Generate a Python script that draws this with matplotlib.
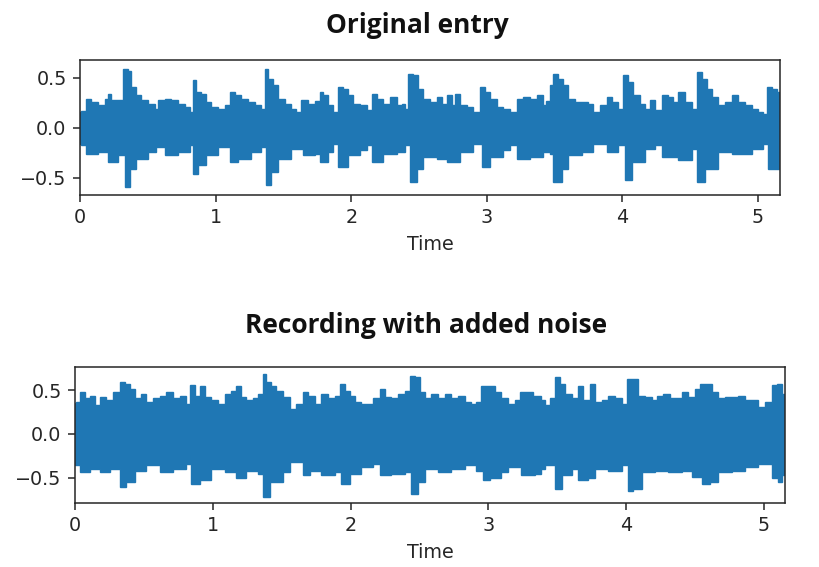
import numpy as np
import matplotlib
matplotlib.use("Agg")
import matplotlib.pyplot as plt

# ---------------- data (amplitude envelopes) ----------------
titles = ["Original entry", "Recording with added noise"]
x_label = "Time"
x_ticks = [0, 1, 2, 3, 4, 5]
y_ticks = [-0.5, 0.0, 0.5]

orig_upper_t = [0.0, 0.010, 0.047, 0.084, 0.133, 0.182, 0.206, 0.231, 0.280, 0.317, 0.354, 0.379,
                0.415, 0.452, 0.501, 0.551, 0.575, 0.624, 0.674, 0.723, 0.772, 0.809, 0.833, 0.858,
                0.895, 0.932, 0.969, 1.018, 1.067, 1.104, 1.141, 1.190, 1.239, 1.288, 1.337, 1.362,
                1.386, 1.423, 1.460, 1.509, 1.558, 1.595, 1.632, 1.681, 1.733, 1.770, 1.794, 1.831,
                1.868, 1.905, 1.942, 1.979, 2.016, 2.065, 2.114, 2.151, 2.188, 2.237, 2.286, 2.335,
                2.372, 2.397, 2.421, 2.458, 2.495, 2.532, 2.581, 2.630, 2.667, 2.704, 2.741, 2.765,
                2.802, 2.852, 2.900, 2.950, 2.987, 3.024, 3.073, 3.122, 3.171, 3.220, 3.269, 3.319,
                3.368, 3.417, 3.440, 3.466, 3.491, 3.527, 3.564, 3.601, 3.650, 3.700, 3.749, 3.786,
                3.835, 3.884, 3.921, 3.970, 4.007, 4.044, 4.081, 4.130, 4.167, 4.204, 4.240, 4.290,
                4.339, 4.376, 4.413, 4.462, 4.511, 4.548, 4.585, 4.621, 4.658, 4.708, 4.757, 4.806,
                4.855, 4.904, 4.953, 5.002, 5.039, 5.064, 5.101, 5.138, 5.162]
orig_upper = [0.16, 0.17, 0.29, 0.26, 0.23, 0.29, 0.34, 0.28, 0.28, 0.59, 0.57, 0.41,
              0.33, 0.28, 0.24, 0.19, 0.28, 0.29, 0.28, 0.24, 0.21, 0.16, 0.48, 0.36,
              0.34, 0.26, 0.21, 0.19, 0.23, 0.36, 0.33, 0.29, 0.26, 0.23, 0.19, 0.59,
              0.49, 0.43, 0.29, 0.24, 0.19, 0.16, 0.28, 0.24, 0.27, 0.36, 0.33, 0.23,
              0.16, 0.41, 0.39, 0.33, 0.24, 0.23, 0.18, 0.34, 0.29, 0.24, 0.31, 0.23,
              0.24, 0.19, 0.54, 0.53, 0.39, 0.29, 0.26, 0.31, 0.24, 0.33, 0.23, 0.34,
              0.23, 0.21, 0.16, 0.41, 0.36, 0.29, 0.21, 0.19, 0.16, 0.29, 0.31, 0.29,
              0.33, 0.23, 0.27, 0.43, 0.54, 0.49, 0.43, 0.29, 0.26, 0.26, 0.24, 0.16,
              0.23, 0.31, 0.26, 0.19, 0.53, 0.46, 0.33, 0.24, 0.19, 0.28, 0.18, 0.33,
              0.31, 0.26, 0.36, 0.26, 0.19, 0.56, 0.49, 0.39, 0.31, 0.23, 0.26, 0.33,
              0.26, 0.23, 0.19, 0.16, 0.14, 0.41, 0.39, 0.36, 0.29]

orig_lower_t = [0.0, 0.010, 0.047, 0.133, 0.206, 0.280, 0.329, 0.366, 0.415, 0.501, 0.563, 0.624,
                0.723, 0.809, 0.833, 0.870, 0.932, 1.018, 1.104, 1.165, 1.264, 1.337, 1.374, 1.411,
                1.460, 1.558, 1.608, 1.645, 1.731, 1.770, 1.831, 1.868, 1.905, 1.979, 2.065, 2.114,
                2.151, 2.237, 2.335, 2.397, 2.434, 2.483, 2.532, 2.630, 2.704, 2.802, 2.900, 2.962,
                3.024, 3.122, 3.171, 3.220, 3.319, 3.417, 3.466, 3.491, 3.552, 3.601, 3.700, 3.786,
                3.884, 3.970, 4.019, 4.068, 4.167, 4.240, 4.290, 4.413, 4.511, 4.548, 4.609, 4.708,
                4.806, 4.953, 5.039, 5.076, 5.162]
orig_lower = [-0.16, -0.17, -0.26, -0.24, -0.34, -0.27, -0.59, -0.41, -0.31, -0.24, -0.19, -0.27,
              -0.24, -0.17, -0.46, -0.37, -0.27, -0.19, -0.34, -0.31, -0.24, -0.19, -0.57, -0.44,
              -0.31, -0.21, -0.21, -0.27, -0.26, -0.34, -0.24, -0.16, -0.39, -0.27, -0.22, -0.17,
              -0.34, -0.26, -0.24, -0.17, -0.54, -0.41, -0.29, -0.31, -0.34, -0.24, -0.16, -0.39,
              -0.29, -0.22, -0.17, -0.31, -0.29, -0.24, -0.26, -0.54, -0.41, -0.27, -0.24, -0.16,
              -0.24, -0.17, -0.52, -0.34, -0.21, -0.17, -0.29, -0.32, -0.21, -0.54, -0.41, -0.24,
              -0.26, -0.21, -0.16, -0.41, -0.34]

noisy_upper_t = [0.0, 0.010, 0.034, 0.070, 0.106, 0.143, 0.179, 0.227, 0.276, 0.324, 0.360, 0.397,
                 0.433, 0.481, 0.518, 0.566, 0.614, 0.663, 0.711, 0.760, 0.808, 0.832, 0.868, 0.905,
                 0.941, 0.989, 1.038, 1.086, 1.134, 1.171, 1.207, 1.243, 1.292, 1.328, 1.364, 1.389,
                 1.425, 1.461, 1.509, 1.558, 1.606, 1.655, 1.691, 1.739, 1.788, 1.836, 1.884, 1.921,
                 1.957, 1.993, 2.030, 2.078, 2.126, 2.163, 2.211, 2.247, 2.296, 2.344, 2.392, 2.429,
                 2.465, 2.501, 2.537, 2.586, 2.634, 2.683, 2.731, 2.779, 2.828, 2.876, 2.912, 2.949,
                 2.997, 3.046, 3.094, 3.142, 3.191, 3.227, 3.275, 3.324, 3.384, 3.411, 3.447, 3.483,
                 3.520, 3.556, 3.604, 3.653, 3.689, 3.737, 3.774, 3.822, 3.870, 3.919, 3.967, 4.003,
                 4.052, 4.088, 4.136, 4.185, 4.221, 4.269, 4.318, 4.366, 4.402, 4.451, 4.499, 4.536,
                 4.584, 4.620, 4.669, 4.717, 4.765, 4.814, 4.862, 4.911, 4.959, 5.007, 5.056, 5.092,
                 5.128, 5.152]
noisy_upper = [0.36, 0.37, 0.48, 0.41, 0.44, 0.33, 0.43, 0.39, 0.48, 0.60, 0.58, 0.52,
               0.41, 0.46, 0.37, 0.41, 0.44, 0.48, 0.41, 0.44, 0.35, 0.56, 0.44, 0.55,
               0.43, 0.39, 0.35, 0.46, 0.49, 0.55, 0.43, 0.39, 0.41, 0.46, 0.69, 0.60,
               0.55, 0.49, 0.43, 0.29, 0.35, 0.48, 0.44, 0.35, 0.46, 0.41, 0.44, 0.58,
               0.49, 0.44, 0.37, 0.35, 0.35, 0.41, 0.52, 0.43, 0.41, 0.46, 0.49, 0.67,
               0.65, 0.48, 0.41, 0.46, 0.41, 0.46, 0.41, 0.44, 0.37, 0.35, 0.37, 0.55,
               0.55, 0.48, 0.41, 0.35, 0.39, 0.48, 0.48, 0.44, 0.39, 0.33, 0.41, 0.65,
               0.58, 0.46, 0.41, 0.55, 0.39, 0.58, 0.37, 0.39, 0.44, 0.41, 0.35, 0.63,
               0.63, 0.44, 0.43, 0.39, 0.44, 0.46, 0.41, 0.41, 0.48, 0.43, 0.52, 0.58,
               0.58, 0.48, 0.41, 0.43, 0.43, 0.44, 0.39, 0.39, 0.31, 0.37, 0.56, 0.58,
               0.46, 0.44]

noisy_lower_t = [0.0, 0.010, 0.034, 0.106, 0.179, 0.252, 0.324, 0.373, 0.433, 0.518, 0.614, 0.711,
                 0.808, 0.844, 0.905, 0.989, 1.086, 1.171, 1.243, 1.328, 1.364, 1.413, 1.509, 1.558,
                 1.655, 1.703, 1.788, 1.884, 1.933, 1.993, 2.078, 2.163, 2.211, 2.296, 2.392, 2.441,
                 2.489, 2.537, 2.634, 2.731, 2.828, 2.912, 2.961, 3.009, 3.094, 3.142, 3.239, 3.336,
                 3.384, 3.411, 3.483, 3.532, 3.604, 3.653, 3.725, 3.774, 3.870, 3.967, 4.015, 4.052,
                 4.112, 4.209, 4.306, 4.402, 4.475, 4.548, 4.608, 4.669, 4.765, 4.862, 4.959, 5.056,
                 5.104, 5.128, 5.152]
noisy_lower = [-0.36, -0.36, -0.44, -0.40, -0.44, -0.40, -0.61, -0.55, -0.42, -0.36, -0.44, -0.40,
               -0.34, -0.57, -0.53, -0.40, -0.44, -0.51, -0.42, -0.46, -0.72, -0.55, -0.44, -0.32,
               -0.47, -0.42, -0.47, -0.44, -0.57, -0.46, -0.38, -0.34, -0.47, -0.46, -0.44, -0.69,
               -0.55, -0.40, -0.44, -0.40, -0.36, -0.42, -0.53, -0.51, -0.44, -0.38, -0.47, -0.46,
               -0.40, -0.36, -0.63, -0.47, -0.40, -0.53, -0.51, -0.40, -0.42, -0.36, -0.65, -0.63,
               -0.44, -0.42, -0.44, -0.42, -0.49, -0.57, -0.55, -0.44, -0.42, -0.38, -0.34, -0.51,
               -0.55, -0.47, -0.45]

# ---------------- figure ----------------
S = 1.38  # scale of the screenshot relative to default matplotlib sizes
plt.rcParams.update({
    "font.family": ["DejaVu Sans"],
    "font.size": 10 * S,
    "text.color": "#262626",
    "xtick.color": "#262626",
    "ytick.color": "#262626",
    "axes.edgecolor": "#262626",
    "axes.labelcolor": "#262626",
    "axes.linewidth": 0.8 * S,
    "xtick.major.size": 3.5 * S,
    "ytick.major.size": 3.5 * S,
    "xtick.major.width": 0.8 * S,
    "ytick.major.width": 0.8 * S,
    "xtick.major.pad": 3.5 * S,
    "ytick.major.pad": 3.5 * S,
    "axes.labelpad": 4.0 * S,
})

W, H = 820, 567
fig = plt.figure(figsize=(W / 100, H / 100), dpi=100)

color = "#1f77b4"


def px_axes(left, top, right, bottom):
    return fig.add_axes([left / W, 1 - bottom / H, (right - left) / W, (bottom - top) / H])


def step_outline(t, v):
    """Outline of a 'post' step drawing of an envelope (each value held until the next time)."""
    t = np.asarray(t, float)
    v = np.asarray(v, float)
    xs = np.repeat(t, 2)[1:]
    ys = np.repeat(v, 2)[:-1]
    return xs, ys


ax1 = px_axes(80, 60, 780, 195)
ax2 = px_axes(75, 367, 785, 503)

panels = [
    (ax1, orig_upper_t, orig_upper, orig_lower_t, orig_lower, (0, 5.162), (-0.673, 0.677)),
    (ax2, noisy_upper_t, noisy_upper, noisy_lower_t, noisy_lower, (0, 5.152), (-0.793, 0.770)),
]

for ax, ut, uv, lt, lv, xl, yl in panels:
    ux, uy = step_outline(ut, uv)
    lx, ly = step_outline(lt, lv)
    xs = np.concatenate([ux, lx[::-1]])
    ys = np.concatenate([uy, ly[::-1]])
    ax.fill(xs, ys, color=color, lw=1.0, edgecolor=color, joinstyle="miter")
    ax.set_xlim(*xl)
    ax.set_ylim(*yl)
    ax.set_xticks(x_ticks)
    ax.set_xticklabels([str(v) for v in x_ticks])
    ax.set_yticks(y_ticks)
    ax.set_xlabel(x_label)

title_kw = dict(ha="center", va="baseline", fontsize=19, fontweight="bold",
                family=["Open Sans", "DejaVu Sans"], color="#111111")
fig.text(417 / W, 1 - 33 / H, titles[0], **title_kw)
fig.text(426 / W, 1 - 333 / H, titles[1], **title_kw)

fig.savefig("out.png", dpi=100)
